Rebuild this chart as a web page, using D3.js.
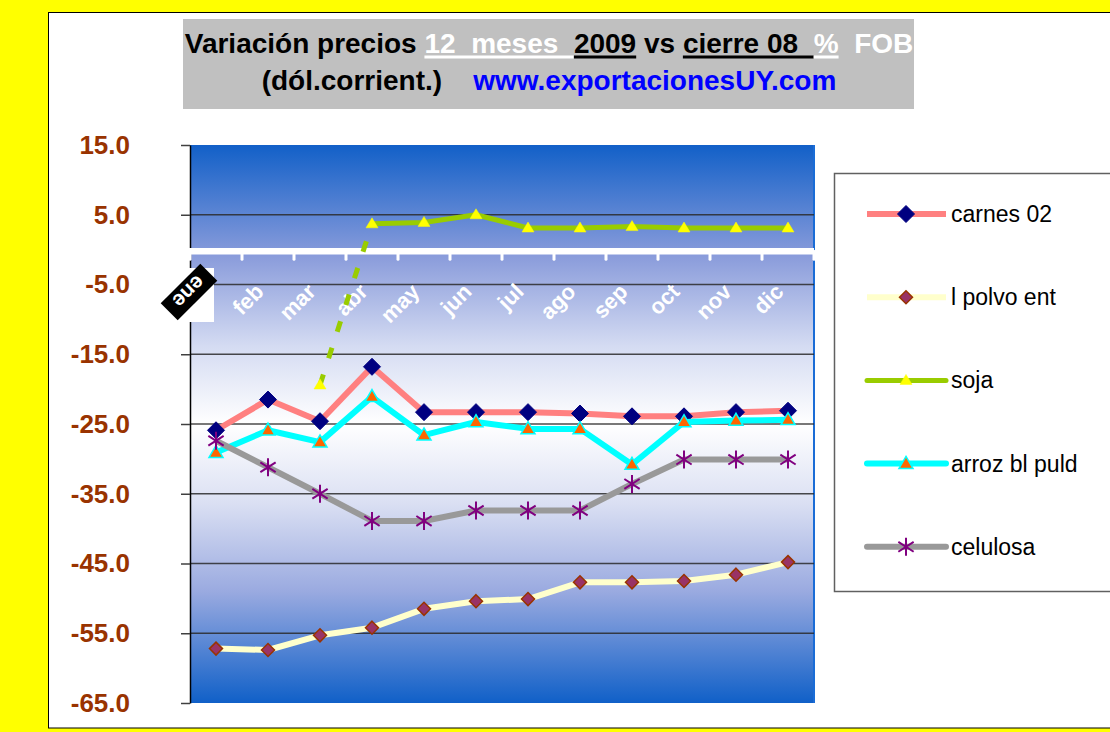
<!DOCTYPE html>
<html>
<head>
<meta charset="utf-8">
<script src="https://cdn.jsdelivr.net/npm/d3@7"></script>
<style>
  html, body { margin: 0; padding: 0; background: #ffff00; }
  svg { display: block; font-family: "Liberation Sans", Arial, sans-serif; }
</style>
</head>
<body>
<div id="chart"></div>
<script>
// values (% change vs cierre 08)
const months = ["ene", "feb", "mar", "abr", "may", "jun", "jul", "ago", "sep", "oct", "nov", "dic"];
const carnes = [-25.9, -21.5, -24.6, -16.8, -23.3, -23.3, -23.3, -23.5, -23.9, -23.9, -23.3, -23.1];
const lechePolvo = [-57.2, -57.4, -55.3, -54.2, -51.5, -50.4, -50.1, -47.7, -47.7, -47.5, -46.6, -44.8];
const soja = [null, null, -19.4, 3.7, 3.9, 5.0, 3.1, 3.1, 3.3, 3.1, 3.1, 3.1];
const arroz = [-29.1, -25.9, -27.6, -21.1, -26.6, -24.7, -25.7, -25.7, -30.8, -24.7, -24.5, -24.4];
const celulosa = [-27.4, -31.2, -35.0, -38.9, -38.9, -37.4, -37.4, -37.4, -33.6, -30.1, -30.1, -30.1];
const yTicks = [15, 5, -5, -15, -25, -35, -45, -55, -65];
const seriesNames = ["carnes 02", "l polvo ent", "soja", "arroz bl puld", "celulosa"];

const width = 1110, height = 732;
const plot = { left: 190, right: 814, top: 145, bottom: 703 };

// marker shapes
const diamond = r => `M0,${-r}L${r},0L0,${r}L${-r},0Z`;
const triangle = (w, h) => `M0,${-h * 0.6}L${w},${h * 0.4}L${-w},${h * 0.4}Z`;
const asterisk = r => `M0,${-r}V${r}M${-r * 0.85},${-r * 0.55}L${r * 0.85},${r * 0.55}M${-r * 0.85},${r * 0.55}L${r * 0.85},${-r * 0.55}`;

const series = [
    { name: seriesNames[0], values: carnes, line: "#ff8080", lw: 6, marker: diamond(8.5), fill: "#000080", stroke: "#000080", sw: 1 },
    { name: seriesNames[1], values: lechePolvo, line: "#ffffcc", lw: 6, marker: diamond(6.5), fill: "#993366", stroke: "#993300", sw: 1.5 },
    { name: seriesNames[2], values: soja, line: "#99cc00", lw: 5, marker: triangle(6, 10), fill: "#ffff00", stroke: "#ffff00", sw: 0.5 },
    { name: seriesNames[3], values: arroz, line: "#00ffff", lw: 6, marker: triangle(7, 12), fill: "#ff6600", stroke: "#00ffff", sw: 1.5 },
    { name: seriesNames[4], values: celulosa, line: "#999999", lw: 6, marker: asterisk(9), fill: "none", stroke: "#800080", sw: 2 }
];

const svg = d3.select("#chart").append("svg")
    .attr("width", width)
    .attr("height", height);

svg.append("rect").attr("width", width).attr("height", height).attr("fill", "#ffff00");
svg.append("rect")
    .attr("x", 48.5).attr("y", 12.5)
    .attr("width", width).attr("height", 715.5)
    .attr("fill", "#fff").attr("stroke", "#000");

// ---- title box
svg.append("rect")
    .attr("x", 183).attr("y", 19).attr("width", 731).attr("height", 90)
    .attr("fill", "#c0c0c0");

function titleLine(segments, cx, baseline, size) {
    const g = svg.append("g");
    let pos = 0;
    segments.forEach(s => {
        const t = g.append("text")
            .attr("x", pos).attr("y", baseline)
            .style("white-space", "pre")
            .attr("font-size", size).attr("font-weight", "bold")
            .attr("fill", s.color)
            .text(s.text);
        const w = t.node().getComputedTextLength();
        if (s.underline) {
            g.append("rect")
                .attr("x", pos).attr("y", baseline + 2.5)
                .attr("width", w).attr("height", 3)
                .attr("fill", s.underline);
        }
        pos += w;
    });
    g.attr("transform", `translate(${cx - pos / 2},0)`);
}

titleLine([
    { text: "Variación precios ", color: "#000" },
    { text: "12  meses  ", color: "#fff", underline: "#fff" },
    { text: "2009", color: "#000", underline: "#000" },
    { text: " vs ", color: "#000" },
    { text: "cierre 08  ", color: "#000", underline: "#000" },
    { text: "%", color: "#fff", underline: "#fff" },
    { text: "  FOB", color: "#fff" }
], 549, 53, 28);

titleLine([
    { text: "(dól.corrient.)    ", color: "#000" },
    { text: "www.exportacionesUY.com", color: "#0000ff" }
], 549, 90, 28);

// ---- scales
const x = d3.scalePoint().domain(months).range([plot.left, plot.right]).padding(0.5);
const y = d3.scaleLinear().domain([-65, 15]).range([plot.bottom, plot.top]);

// plot background: blue - white - blue
const grad = svg.append("defs").append("linearGradient")
    .attr("id", "bg").attr("x1", 0).attr("y1", 0).attr("x2", 0).attr("y2", 1);
[[0, "#1260c8"], [0.2, "#8a9cdb"], [0.36, "#d4dbf2"], [0.5, "#ffffff"], [0.64, "#dbe0f3"], [0.8, "#9aaae0"], [1, "#1060c8"]]
    .forEach(([o, c]) => grad.append("stop").attr("offset", o).attr("stop-color", c));

svg.append("rect")
    .attr("x", plot.left).attr("y", plot.top)
    .attr("width", plot.right - plot.left).attr("height", plot.bottom - plot.top)
    .attr("fill", "url(#bg)");
svg.append("line")
    .attr("x1", plot.right).attr("x2", plot.right)
    .attr("y1", plot.top).attr("y2", plot.bottom)
    .attr("stroke", "#1a6cd6").attr("stroke-width", 2);

// gridlines
svg.append("g")
    .selectAll("line")
    .data(yTicks.filter(d => d !== 15 && d !== -65))
    .join("line")
        .attr("x1", plot.left).attr("x2", plot.right)
        .attr("y1", d => y(d)).attr("y2", d => y(d))
        .attr("stroke", "#2a2a2a").attr("stroke-width", 1.5).attr("stroke-opacity", 0.85);

// y axis
const yAxis = svg.append("g")
    .attr("transform", `translate(${plot.left},0)`)
    .call(d3.axisLeft(y).tickValues(yTicks).tickSizeInner(9).tickSizeOuter(0).tickPadding(51)
        .tickFormat(d => d.toFixed(1)));
yAxis.select(".domain").attr("stroke", "#000").attr("stroke-width", 1.5);
yAxis.selectAll(".tick line").attr("stroke", "#404040").attr("stroke-width", 1.5);
yAxis.selectAll(".tick text")
    .attr("fill", "#993300")
    .attr("font-size", 26).attr("font-weight", "bold")
    .attr("font-family", "Liberation Sans, Arial, sans-serif");

// x axis at zero: thick white line with round ticks at category boundaries
const y0 = y(0) + 1.5;
const band = svg.append("g").attr("stroke", "#fff");
band.append("line")
    .attr("x1", plot.left - 6).attr("x2", plot.right)
    .attr("y1", y0).attr("y2", y0)
    .attr("stroke-width", 6.5);
band.selectAll(".xt")
    .data(d3.range(months.length + 1))
    .join("line")
        .attr("class", "xt")
        .attr("x1", i => plot.left + i * x.step()).attr("x2", i => plot.left + i * x.step())
        .attr("y1", y0).attr("y2", y0 + 8)
        .attr("stroke-width", 3).attr("stroke-linecap", "round");

// category labels
const labels = svg.append("g");
months.forEach((m, i) => {
    if (i === 0) {
        // first label comes out as a black tag in a white box
        labels.append("rect")
            .attr("x", plot.left - 8).attr("y", 268).attr("width", 32).attr("height", 54)
            .attr("fill", "#fff");
        const tag = labels.append("g")
            .attr("transform", `translate(${x(m) - 27},${292}) rotate(-45)`);
        tag.append("rect")
            .attr("x", -28).attr("y", -12).attr("width", 56).attr("height", 24)
            .attr("fill", "#000");
        tag.append("text")
            .attr("transform", "rotate(180)")
            .attr("text-anchor", "middle").attr("dy", "0.35em")
            .attr("fill", "#fff").attr("font-size", 21).attr("font-weight", "bold")
            .text(m);
    } else {
        labels.append("text")
            .attr("transform", `translate(${x(m) - 3},${293}) rotate(-45)`)
            .attr("text-anchor", "end")
            .attr("fill", "#fff").attr("font-size", 22).attr("font-weight", "bold")
            .text(m);
    }
});

// ---- series
const line = d3.line()
    .defined(d => d != null)
    .x((d, i) => x(months[i]))
    .y(d => y(d));

series.forEach(s => {
    const g = svg.append("g");
    const first = s.values.findIndex(v => v != null);
    if (first > 0) {
        // the isolated first value is joined with a dashed link
        g.append("line")
            .attr("x1", x(months[first])).attr("y1", y(s.values[first]))
            .attr("x2", x(months[first + 1])).attr("y2", y(s.values[first + 1]))
            .attr("stroke", s.line).attr("stroke-width", s.lw)
            .attr("stroke-dasharray", "11,17");
        g.append("path")
            .attr("d", line(s.values.map((v, i) => i <= first ? null : v)))
            .attr("fill", "none").attr("stroke", s.line).attr("stroke-width", s.lw)
            .attr("stroke-linejoin", "round");
    } else {
        g.append("path")
            .attr("d", line(s.values))
            .attr("fill", "none").attr("stroke", s.line).attr("stroke-width", s.lw)
            .attr("stroke-linejoin", "round");
    }
    g.selectAll(".m")
        .data(s.values.map((v, i) => ({ v, m: months[i] })).filter(d => d.v != null))
        .join("path")
            .attr("class", "m")
            .attr("transform", d => `translate(${x(d.m)},${y(d.v)})`)
            .attr("d", s.marker)
            .attr("fill", s.fill).attr("stroke", s.stroke).attr("stroke-width", s.sw);
});

// ---- legend
const legend = svg.append("g");
legend.append("rect")
    .attr("x", 834.5).attr("y", 173.5).attr("width", 300).attr("height", 418)
    .attr("fill", "#fff").attr("stroke", "#606060").attr("stroke-width", 1.5);

series.forEach((s, i) => {
    const ly = 214 + i * 83.2;
    legend.append("line")
        .attr("x1", 867).attr("x2", 946).attr("y1", ly).attr("y2", ly)
        .attr("stroke", s.line).attr("stroke-width", s.lw)
        .attr("stroke-linecap", i >= 2 ? "round" : "butt");
    legend.append("path")
        .attr("transform", `translate(906,${ly})`)
        .attr("d", s.marker)
        .attr("fill", s.fill).attr("stroke", s.stroke).attr("stroke-width", s.sw);
    legend.append("text")
        .attr("x", 951).attr("y", ly).attr("dy", "0.35em")
        .attr("font-size", 23).attr("fill", "#000")
        .text(s.name);
});
</script>
</body>
</html>
